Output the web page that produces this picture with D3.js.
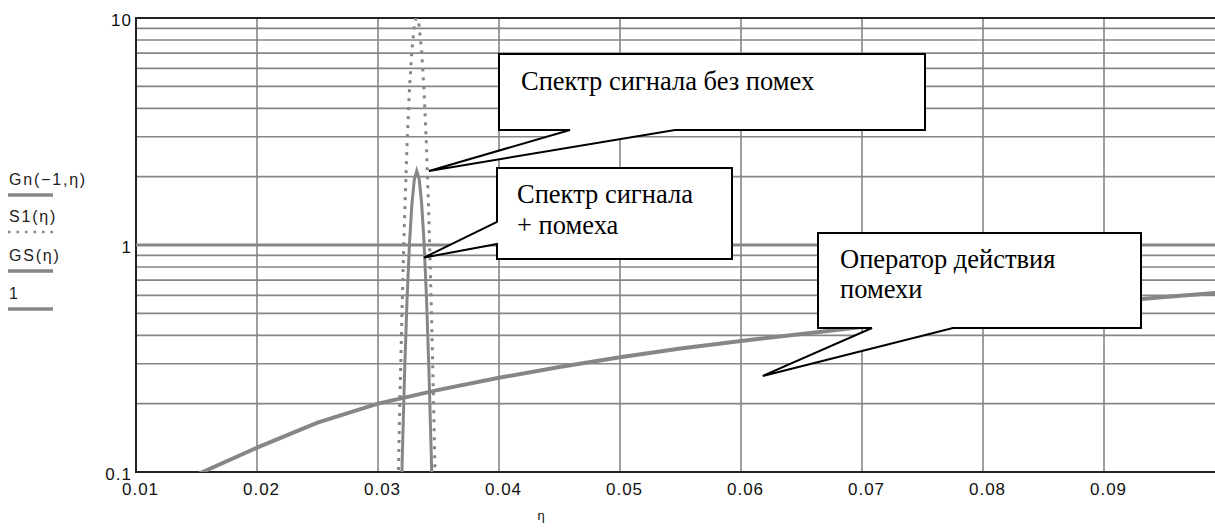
<!DOCTYPE html>
<html><head><meta charset="utf-8">
<script src="https://cdn.jsdelivr.net/npm/d3@7"></script>
<style>body{margin:0;background:#fff} svg{display:block}</style>
</head><body><svg id="c" width="1215" height="528"></svg>
<script>
// ---- data ----
const xTickValues = [0.01,0.02,0.03,0.04,0.05,0.06,0.07,0.08,0.09];
const xTickLabels = ["0.01","0.02","0.03","0.04","0.05","0.06","0.07","0.08","0.09"];
const yTickValues = [0.1,1,10];
const yTickLabels = ["0.1","1","10"];
const xTitle = "η";

// Gn(-1,η): interference operator
const gnEta = [0.0150,0.0155,0.020,0.025,0.030,0.035,0.040,0.045,0.050,0.055,0.060,0.065,0.070,0.075,0.080,0.085,0.090,0.095,0.100];
const gnVal = [0.097,0.100,0.128,0.165,0.200,0.230,0.260,0.290,0.320,0.350,0.378,0.405,0.435,0.465,0.495,0.525,0.560,0.590,0.620];

// S1(η) and GS(η): spectra around the peak
const sEta  = [0.0316,0.0318,0.0320,0.0322,0.0324,0.0326,0.0328,0.0330,0.0332,0.0334,0.0336,0.0338,0.0340,0.0342,0.0344,0.0346,0.0348];
const s1Val = [0.059,0.195,0.55,1.34,2.76,4.85,7.2,9.2,10.5,9.2,7.2,4.85,2.76,1.34,0.55,0.195,0.059];
const gsVal = [0.012,0.040,0.113,0.277,0.574,1.01,1.51,1.94,2.12,1.96,1.54,1.04,0.60,0.29,0.12,0.043,0.013];

const unityVal = 1;
const legendLabels = ["Gn(\u22121,\u03b7)","S1(\u03b7)","GS(\u03b7)","1"];
const calloutTexts = [["Спектр сигнала без помех"],["Спектр сигнала","+ помеха"],["Оператор действия","помехи"]];
const calloutAnchors = [[0.03421,2.12],[0.0338,0.88],[0.0618,0.265]];

// ---- layout ----
const L = 136, T = 18, B = 472;
const svg = d3.select("#c");
const x = d3.scaleLinear().domain([0.01,0.1]).range([L, 1225]);
const y = d3.scaleLog().domain([0.1,10]).range([B, T]);
const grey = "#868686";

svg.append("defs").append("clipPath").attr("id","clip")
  .append("rect").attr("x",L).attr("y",T).attr("width",1215-L).attr("height",B-T);

// grid
const g = svg.append("g");
g.selectAll("line.h").data(y.ticks()).join("line")
  .attr("x1",L).attr("x2",1215).attr("y1",d=>y(d)).attr("y2",d=>y(d))
  .attr("stroke",grey).attr("stroke-width",1.6);
g.selectAll("line.v").data(xTickValues.slice(1)).join("line")
  .attr("x1",d=>x(d)).attr("x2",d=>x(d)).attr("y1",T).attr("y2",B)
  .attr("stroke",grey).attr("stroke-width",1.6);

// axes frame
svg.append("line").attr("x1",L).attr("x2",1215).attr("y1",T).attr("y2",T).attr("stroke","#222").attr("stroke-width",2);
svg.append("line").attr("x1",L).attr("x2",1215).attr("y1",B).attr("y2",B).attr("stroke","#222").attr("stroke-width",2);
svg.append("line").attr("x1",L).attr("x2",L).attr("y1",T-1).attr("y2",B+1).attr("stroke","#222").attr("stroke-width",2);

// axis labels
const font = "'Liberation Sans', Arial, sans-serif";
const xa = svg.append("g").attr("transform",`translate(0,${B})`)
  .call(d3.axisBottom(x).tickValues(xTickValues).tickFormat((d,i)=>xTickLabels[i]).tickSize(0).tickPadding(11));
xa.select(".domain").remove();
xa.selectAll("text").attr("dx",4).attr("font-family",font).attr("font-size",17).attr("letter-spacing",1).attr("fill","#111");
const ya = svg.append("g").attr("transform",`translate(${L},0)`)
  .call(d3.axisLeft(y).tickValues(yTickValues).tickFormat((d,i)=>yTickLabels[i]).tickSize(0).tickPadding(4));
ya.select(".domain").remove();
ya.selectAll("text").attr("dy","0.42em").attr("font-family",font).attr("font-size",17).attr("letter-spacing",1).attr("fill","#111");

svg.append("text").attr("x",541).attr("y",520).attr("text-anchor","middle")
  .attr("font-family",font).attr("font-size",13).attr("fill","#111").text(xTitle);

// series
const plot = svg.append("g").attr("clip-path","url(#clip)");
const line = d3.line().x(d=>x(d[0])).y(d=>y(d[1]));
plot.append("line").attr("x1",L).attr("x2",1215).attr("y1",y(unityVal)).attr("y2",y(unityVal))
  .attr("stroke",grey).attr("stroke-width",3);
plot.append("path").datum(gnEta.map((e,i)=>[e,gnVal[i]])).attr("d",line)
  .attr("fill","none").attr("stroke",grey).attr("stroke-width",4);
plot.append("path").datum(sEta.map((e,i)=>[e,s1Val[i]])).attr("d",line)
  .attr("fill","none").attr("stroke",grey).attr("stroke-width",3).attr("stroke-dasharray","3,6");
plot.append("path").datum(sEta.map((e,i)=>[e,gsVal[i]])).attr("d",line)
  .attr("fill","none").attr("stroke",grey).attr("stroke-width",3);

// legend
const lg = svg.append("g");
const legY = [195,232,271,309];
legendLabels.forEach((t,i)=>{
  lg.append("text").attr("x",9).attr("y",legY[i]-10).attr("font-family",font)
    .attr("font-size",16).attr("letter-spacing",1.8).attr("fill","#222").text(t);
  lg.append("line").attr("x1",8).attr("x2",53).attr("y1",legY[i]).attr("y2",legY[i])
    .attr("stroke",grey).attr("stroke-width",i===1?2.5:3.5).attr("stroke-dasharray",i===1?"2.5,6":null);
});

// callouts
const boxes = [
  {x0:499,y0:54,x1:925,y1:130, side:"bottom", p:[570,675], tx:521, ty:[90]},
  {x0:497,y0:168,x1:732,y1:259, side:"left", p:[222,244], tx:517, ty:[203,234]},
  {x0:818,y0:233,x1:1141,y1:328, side:"bottom", p:[872,953], tx:840, ty:[268,298]}
];
const cg = svg.append("g");
boxes.forEach((b,i)=>{
  const tip = [x(calloutAnchors[i][0]), y(calloutAnchors[i][1])];
  let pts;
  if (b.side==="bottom") {
    pts = [[b.x0,b.y0],[b.x1,b.y0],[b.x1,b.y1],[b.p[1],b.y1],tip,[b.p[0],b.y1],[b.x0,b.y1]];
  } else {
    pts = [[b.x0,b.y0],[b.x1,b.y0],[b.x1,b.y1],[b.x0,b.y1],[b.x0,b.p[1]],tip,[b.x0,b.p[0]]];
  }
  cg.append("polygon").attr("points",pts.map(p=>p.join(",")).join(" "))
    .attr("fill","#fff").attr("stroke","#000").attr("stroke-width",2).attr("stroke-linejoin","miter");
  calloutTexts[i].forEach((t,j)=>{
    cg.append("text").attr("x",b.tx).attr("y",b.ty[j]).attr("font-family","'Liberation Serif', 'Times New Roman', serif")
      .attr("font-size",26.5).attr("fill","#000").text(t);
  });
});
</script></body></html>
